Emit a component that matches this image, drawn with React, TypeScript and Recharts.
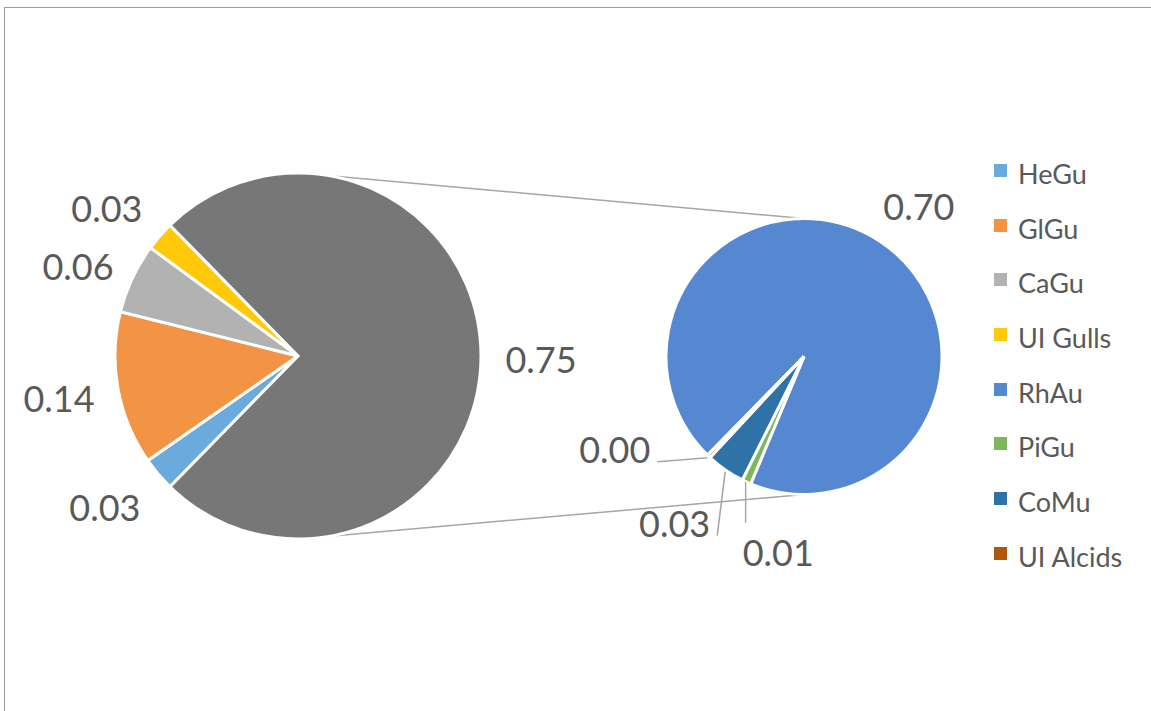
import React from "react";
import { Cell, Customized, Legend, Pie, PieChart } from "recharts";

// main pie categories (the rest goes into the "Other" split slice)
const mainNames = ["HeGu", "GlGu", "CaGu", "UI Gulls"];
const mainValues = [0.03, 0.136, 0.062, 0.026];
// secondary pie = breakdown of "Other"
const subNames = ["RhAu", "PiGu", "CoMu", "UI Alcids"];
const subValues = [0.703, 0.008, 0.034, 0.003];
const otherName = "Other";

const mainColors = ["#6AAADD", "#F29443", "#B2B2B2", "#FFC90A"];
const otherColor = "#777777";
const subColors = ["#5687D1", "#7DB75A", "#2E72A7", "#B0570F"];

const W = 1151;
const H = 711;
const MAIN = { cx: 298, cy: 356, r: 183 };
const SUB = { cx: 804, cy: 356.5, r: 138 };
const TEXT = "#595959";
const FONT = "Lato, 'Open Sans', sans-serif";
const RAD = Math.PI / 180;

const otherValue = subValues.reduce((a, b) => a + b, 0);
const mainData = [
  ...mainNames.map((name, i) => ({ name, value: mainValues[i], fill: mainColors[i] })),
  { name: otherName, value: otherValue, fill: otherColor },
];
const subData = subNames.map((name, i) => ({ name, value: subValues[i], fill: subColors[i] }));
const legendOrder = [...mainNames, ...subNames];

// Excel centres the split slice on the right-hand side
const mainTotal = mainData.reduce((a, d) => a + d.value, 0);
const startAngle = 180 + 180 * (1 - otherValue / mainTotal);

// hand-placed labels with leader lines for the tiny secondary slices (relative to slice edge)
const leaders: Record<string, { pts: number[][]; anchor: "start" | "end"; tx: number; ty: number }> = {
  "UI Alcids": { pts: [[0, 0], [-37, 3], [-50, 4]], anchor: "end", tx: -57, ty: -7 },
  CoMu: { pts: [[1, 0], [-7, 64]], anchor: "end", tx: -14, ty: 53 },
  PiGu: { pts: [[0, -2], [0, 39]], anchor: "start", tx: -3, ty: 70 },
};

const fmt = (v: number) => Number(v).toFixed(2);

const renderLabel = (props: any) => {
  const { cx, cy, midAngle, outerRadius, value } = props;
  const name = props.name ?? props.payload?.name;
  const cos = Math.cos(-midAngle * RAD);
  const sin = Math.sin(-midAngle * RAD);
  const lead = leaders[name];
  if (lead) {
    const ex = cx + (outerRadius + 2) * cos;
    const ey = cy + (outerRadius + 2) * sin;
    const pts = lead.pts.map(([dx, dy]) => `${ex + dx},${ey + dy}`).join(" ");
    return (
      <g key={`lbl-${name}`}>
        <polyline points={pts} fill="none" stroke="#a6a6a6" strokeWidth={1.5} />
        <text x={ex + lead.tx} y={ey + lead.ty} dy="0.35em" textAnchor={lead.anchor}
          fill={TEXT} fontSize={36} fontFamily={FONT}>
          {fmt(value)}
        </text>
      </g>
    );
  }
  // small slices get pushed a little further out, like Excel's best fit
  const push = Math.abs(cos) < 0.9 ? 10 : 0;
  const px = cx + (outerRadius + 12 + push) * cos + 48 * cos;
  const py = cy + (outerRadius + 12 + push) * sin + 24 * sin + 4;
  return (
    <text key={`lbl-${name}`} x={px} y={py} dy="0.35em" textAnchor="middle"
      fill={TEXT} fontSize={36} fontFamily={FONT}>
      {fmt(value)}
    </text>
  );
};

// series lines joining the two pies
const Connectors = () => {
  const a = 80 * RAD;
  const x1 = MAIN.cx + MAIN.r * Math.cos(a);
  const yTop = MAIN.cy - MAIN.r * Math.sin(a);
  const yBot = MAIN.cy + MAIN.r * Math.sin(a);
  return (
    <g>
      <line x1={x1} y1={yTop} x2={SUB.cx} y2={SUB.cy - SUB.r} stroke="#a6a6a6" strokeWidth={1.5} />
      <line x1={x1} y1={yBot} x2={SUB.cx} y2={SUB.cy + SUB.r} stroke="#a6a6a6" strokeWidth={1.5} />
    </g>
  );
};

const renderLegend = (props: any) => {
  const items = (props.payload || [])
    .filter((p: any) => p.value !== otherName)
    .sort((a: any, b: any) => legendOrder.indexOf(a.value) - legendOrder.indexOf(b.value));
  return (
    <div>
      {items.map((p: any) => (
        <div key={p.value} style={{ display: "flex", alignItems: "center", height: 54.7 }}>
          <span style={{ width: 13, height: 13, background: p.color, display: "inline-block", position: "relative", top: -3 }} />
          <span style={{ marginLeft: 11, fontSize: 27, lineHeight: 1, color: TEXT, fontFamily: FONT }}>{p.value}</span>
        </div>
      ))}
    </div>
  );
};

export default function App() {
  return (
    <div style={{ position: "absolute", left: 0, top: 0, width: W, height: H, background: "#fff", overflow: "hidden", fontFamily: FONT }}>
      <div style={{ position: "absolute", left: 4, top: 7, width: W + 50, height: H + 50, borderTop: "1.5px solid #9b9b9b", borderLeft: "1.5px solid #9b9b9b" }} />
      <div style={{ position: "absolute", left: 0, top: 0 }}>
        <PieChart width={W} height={H} margin={{ top: 0, right: 0, bottom: 0, left: 0 }}>
          <Customized component={Connectors} />
          <Pie
            data={mainData}
            dataKey="value"
            nameKey="name"
            cx={MAIN.cx}
            cy={MAIN.cy}
            outerRadius={MAIN.r}
            startAngle={startAngle}
            endAngle={startAngle - 360}
            stroke="#ffffff"
            strokeWidth={3}
            label={renderLabel}
            labelLine={false}
            isAnimationActive={false}
          >
            {mainData.map((d) => (
              <Cell key={`main-${d.name}`} fill={d.fill} />
            ))}
          </Pie>
          <Pie
            data={subData}
            dataKey="value"
            nameKey="name"
            cx={SUB.cx}
            cy={SUB.cy}
            outerRadius={SUB.r}
            startAngle={startAngle}
            endAngle={startAngle - 360}
            stroke="#ffffff"
            strokeWidth={3}
            label={renderLabel}
            labelLine={false}
            isAnimationActive={false}
          >
            {subData.map((d) => (
              <Cell key={`sub-${d.name}`} fill={d.fill} />
            ))}
          </Pie>
          <Legend
            layout="vertical"
            align="right"
            verticalAlign="top"
            content={renderLegend}
            wrapperStyle={{ left: 994, top: 146, right: "auto", width: 157 }}
          />
        </PieChart>
      </div>
    </div>
  );
}
